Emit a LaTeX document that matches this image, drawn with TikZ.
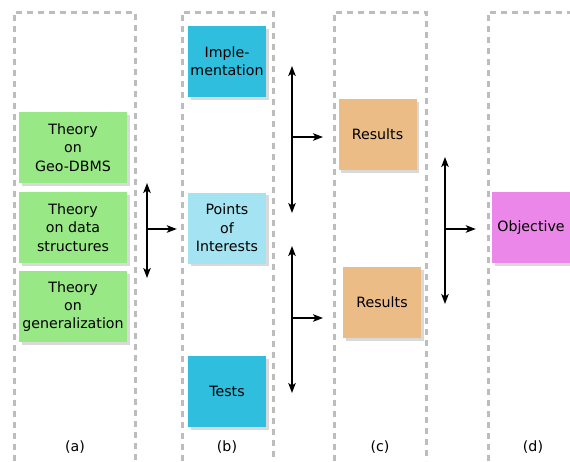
\documentclass[tikz,border=0pt]{standalone}
\usepackage{fontspec}
\setmainfont{DejaVu Sans}
\usetikzlibrary{arrows.meta,positioning,shadows}
\definecolor{theoryblk}{HTML}{98E885}
\definecolor{implblk}{HTML}{2FBEDE}
\definecolor{poiblk}{HTML}{A4E3F1}
\definecolor{resblk}{HTML}{EBBC86}
\definecolor{objblk}{HTML}{EB87E8}
\definecolor{framegray}{HTML}{BDBDBD}
\tikzset{
  blk/.style     = {rectangle,inner sep=0pt,align=center,
                    font=\fontsize{14.2}{18.3}\selectfont,
                    minimum width=78pt,minimum height=71pt,
                    drop shadow={shadow xshift=2.5pt,shadow yshift=-2.5pt,
                                 fill=black!15,opacity=1}},
  theory/.style  = {blk,fill=theoryblk,minimum width=108pt},
  impl/.style    = {blk,fill=implblk},
  poi/.style     = {blk,fill=poiblk},
  res/.style     = {blk,fill=resblk},
  obj/.style     = {blk,fill=objblk},
  colframe/.style= {draw=framegray,line width=3pt,dash pattern=on 6pt off 5pt},
  collbl/.style  = {font=\fontsize{14.2}{17}\selectfont,inner sep=0pt},
  tip/.tip       = {Stealth[length=10pt,width=7.5pt,inset=2.5pt]},
  sig/.style     = {-tip,line width=1.6pt},
  dsig/.style    = {tip-tip,line width=1.6pt},
}
\begin{document}
\begin{tikzpicture}[x=1pt,y=-1pt]
  \useasboundingbox (0,0) rectangle (570,461);
  % column frames
  \draw[colframe] (14,461) -- (14,12) -- (135,12) -- (135,461);
  \draw[colframe] (182,461) -- (182,12) -- (273,12) -- (273,461);
  \draw[colframe] (334,461) -- (334,12) -- (426,12) -- (426,461);
  \draw[colframe] (488,461) -- (488,12) -- (572,12);

  % (a)
  \node[theory] (geo)  at (73,147.5) {Theory\\on\\Geo-DBMS};
  \node[theory] (data) at (73,227.5) {Theory\\on data\\structures};
  \node[theory] (gen)  at (73,306.5) {Theory\\on\\generalization};
  % (b)
  \node[impl] (impl)  at (227,61.5)  {Imple-\\mentation};
  \node[poi]  (poi)   at (227,228)   {Points\\of\\Interests};
  \node[impl] (tests) at (227,391.5) {Tests};
  % (c)
  \node[res] (res1) at (377.5,134.5) {Results};
  \node[res] (res2) at (382,302.5)   {Results};
  % (d)
  \node[obj] (obj) at (531,227.5) {Objective};

  \node[collbl] (la) at (75,447)  {(a)};
  \node[collbl] (lb) at (227,447) {(b)};
  \node[collbl] (lc) at (380,447) {(c)};
  \node[collbl] (ld) at (533,447) {(d)};

  % connectors
  \coordinate (abtop) at (147,183);
  \coordinate (abbot) at (147,278);
  \coordinate (abmid) at (147,229);
  \draw[dsig] (abtop) -- (abbot);
  \draw[sig,shorten >=11pt] (abmid) -- (abmid -| poi.west);

  \coordinate (bc1top) at (292,66);
  \coordinate (bc1bot) at (292,213);
  \coordinate (bc1mid) at (292,137);
  \coordinate (bc1end) at (323,137);
  \draw[dsig] (bc1top) -- (bc1bot);
  \draw[sig] (bc1mid) -- (bc1end);

  \coordinate (bc2top) at (292,246);
  \coordinate (bc2bot) at (292,393);
  \coordinate (bc2mid) at (292,318);
  \coordinate (bc2end) at (323,318);
  \draw[dsig] (bc2top) -- (bc2bot);
  \draw[sig] (bc2mid) -- (bc2end);

  \coordinate (cdtop) at (445,157);
  \coordinate (cdbot) at (445,304);
  \coordinate (cdmid) at (445,229);
  \draw[dsig] (cdtop) -- (cdbot);
  \draw[sig,shorten >=16pt] (cdmid) -- (cdmid -| obj.west);
\end{tikzpicture}
\end{document}
